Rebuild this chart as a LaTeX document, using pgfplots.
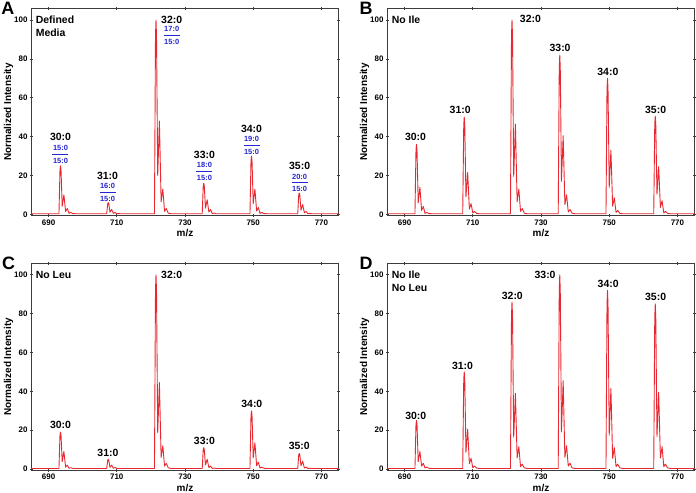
\documentclass[border=0pt]{standalone}
\usepackage{pgfplots}
\pgfplotsset{compat=1.18}
\usepackage{fontspec}
\setmainfont{Liberation Sans}
\definecolor{specred}{RGB}{232,40,46}
\definecolor{fracblue}{RGB}{36,36,210}
\definecolor{axgray}{RGB}{60,60,60}
\pgfplotsset{panel/.style={
  scale only axis, width=307bp, height=207.3bp,
  xmin=685, xmax=775, ymin=-0.7, ymax=106,
  xtick={690,710,730,750,770}, ytick={0,20,40,60,80,100},
  tick align=center, major tick length=3bp,
  axis line style={axgray, line width=0.8bp},
  every tick/.style={axgray, line width=0.6bp},
  /pgf/number format/assume math mode=true,
  /pgf/number format/1000 sep={},
  ticklabel style={font=\fontsize{8}{9}\selectfont\bfseries},
  xticklabel style={yshift=1bp},
  yticklabel style={xshift=1bp},
  xlabel={m/z}, ylabel={Normalized Intensity},
  label style={font=\fontsize{10}{12}\selectfont\bfseries},
  xlabel style={at={(axis description cs:0.5,-0.083)}, anchor=center},
  ylabel style={at={(axis description cs:-0.075,0.5)}, anchor=center},
  clip=false,
}}
\tikzset{spec/.style={specred, mark=none, line width=0.9bp, line join=round, line cap=round},
 pk/.style={font=\fontsize{10.5}{12}\selectfont\bfseries, inner sep=0pt, anchor=center},
 fr/.style={font=\fontsize{7.5}{9}\selectfont\bfseries, text=fracblue, inner sep=0pt, anchor=center},
 cond/.style={font=\fontsize{10.5}{12}\selectfont\bfseries, inner sep=0pt, anchor=west},
 let/.style={font=\fontsize{18}{20}\selectfont\bfseries, inner sep=0pt, anchor=center}}
\begin{document}
\begin{tikzpicture}
\useasboundingbox (0,0) rectangle (696bp,493bp);
% ---------------- A ----------------
\begin{axis}[panel, at={(31.5bp,277.3bp)}, anchor=south west]
\addplot[spec] coordinates {
(685,0.3)
(693.05,0.3)(693.35,23)(693.5,25)(693.65,23)(694.0,4.2)(694.5,10)(695.0,1.5)(695.5,3)(696.0,0.5)(696.5,1)(697.1,0.4)(698.0,0.3)
(707.05,0.3)(707.35,5.5)(707.5,6)(707.65,5.5)(708.0,1.1)(708.5,2.5)(709.0,0.5)(709.5,1)(710.0,0.3)(710.5,0.4)(711.1,0.3)(712.0,0.3)
(721.05,0.3)(721.35,92)(721.5,100)(721.65,92)(722.0,20)(722.5,48)(723.0,6.5)(723.5,13)(724.0,1.5)(724.5,3)(725.1,0.6)(726.0,0.3)
(735.05,0.3)(735.35,14.7)(735.5,16)(735.65,14.7)(736.0,3.2)(736.5,7.5)(737.0,1.2)(737.5,2.5)(738.0,0.4)(738.5,0.7)(739.1,0.3)(740.0,0.3)
(749.05,0.3)(749.35,27.6)(749.5,30)(749.65,27.6)(750.0,5.5)(750.5,13)(751.0,1.7)(751.5,3.5)(752.0,0.5)(752.5,1)(753.1,0.4)(754.0,0.3)
(763.05,0.3)(763.35,10.1)(763.5,11)(763.65,10.1)(764.0,2.1)(764.5,5)(765.0,0.8)(765.5,1.5)(766.0,0.3)(766.5,0.5)(767.1,0.3)(768.0,0.3)
(775,0.3)};
\node[cond] at (axis cs:686.2,100) {Defined};
\node[cond] at (axis cs:686.2,93.3) {Media};
\node[pk] at (axis cs:693.5,39.8) {30:0};
\node[fr] at (axis cs:693.5,34.2) {15:0};
\draw[fracblue, line width=0.8bp] ([xshift=-8bp]axis cs:693.5,31.1) -- ([xshift=8bp]axis cs:693.5,31.1);
\node[fr] at (axis cs:693.5,27.5) {15:0};
\node[pk] at (axis cs:707.3,19.9) {31:0};
\node[fr] at (axis cs:707.3,14.6) {16:0};
\draw[fracblue, line width=0.8bp] ([xshift=-8bp]axis cs:707.3,11.3) -- ([xshift=8bp]axis cs:707.3,11.3);
\node[fr] at (axis cs:707.3,8.0) {15:0};
\node[pk] at (axis cs:726.1,100.1) {32:0};
\node[fr] at (axis cs:726.1,95.3) {17:0};
\draw[fracblue, line width=0.8bp] ([xshift=-8bp]axis cs:726.1,91.9) -- ([xshift=8bp]axis cs:726.1,91.9);
\node[fr] at (axis cs:726.1,88.6) {15:0};
\node[pk] at (axis cs:735.7,30.4) {33:0};
\node[fr] at (axis cs:735.7,25.3) {18:0};
\draw[fracblue, line width=0.8bp] ([xshift=-8bp]axis cs:735.7,22.2) -- ([xshift=8bp]axis cs:735.7,22.2);
\node[fr] at (axis cs:735.7,18.7) {15:0};
\node[pk] at (axis cs:749.5,44.1) {34:0};
\node[fr] at (axis cs:749.5,38.8) {19:0};
\draw[fracblue, line width=0.8bp] ([xshift=-8bp]axis cs:749.5,35.6) -- ([xshift=8bp]axis cs:749.5,35.6);
\node[fr] at (axis cs:749.5,32.1) {15:0};
\node[pk] at (axis cs:763.6,24.7) {35:0};
\node[fr] at (axis cs:763.6,19.4) {20:0};
\draw[fracblue, line width=0.8bp] ([xshift=-8bp]axis cs:763.6,16.3) -- ([xshift=8bp]axis cs:763.6,16.3);
\node[fr] at (axis cs:763.6,13.2) {15:0};
\node[let] at (axis description cs:-0.077,1.0) {A};
\end{axis}
% ---------------- B ----------------
\begin{axis}[panel, at={(387.5bp,277.3bp)}, anchor=south west]
\addplot[spec] coordinates {
(685,0.3)
(693.05,0.3)(693.35,33.1)(693.5,36)(693.65,33.1)(694.0,5.9)(694.5,14)(695.0,2)(695.5,4)(696.0,0.5)(696.5,1)(697.1,0.4)(698.0,0.3)
(707.05,0.3)(707.35,46)(707.5,50)(707.65,46)(708.0,9)(708.5,21.5)(709.0,2.7)(709.5,5.5)(710.0,0.7)(710.5,1.5)(711.1,0.5)(712.0,0.3)
(721.05,0.3)(721.35,92)(721.5,100)(721.65,92)(722.0,19.5)(722.5,46.5)(723.0,6.5)(723.5,13)(724.0,1.5)(724.5,3)(725.1,0.6)(726.0,0.3)
(735.05,0.3)(735.35,75.4)(735.5,82)(735.65,75.4)(736.0,17)(736.5,40.5)(737.0,5)(737.5,10)(738.0,1.2)(738.5,2.5)(739.1,0.6)(740.0,0.3)
(749.05,0.3)(749.35,64.4)(749.5,70)(749.65,64.4)(750.0,13.9)(750.5,33)(751.0,4.2)(751.5,8.5)(752.0,1)(752.5,2)(753.1,0.5)(754.0,0.3)
(763.05,0.3)(763.35,46.5)(763.5,50.5)(763.65,46.5)(764.0,10.3)(764.5,24.5)(765.0,3.5)(765.5,7)(766.0,0.7)(766.5,1.5)(767.1,0.5)(768.0,0.3)
(775,0.3)};
\node[cond] at (axis cs:686.2,100) {No Ile};
\node[pk] at (axis cs:693.2,39.6) {30:0};
\node[pk] at (axis cs:706.3,53.9) {31:0};
\node[pk] at (axis cs:726.9,100.6) {32:0};
\node[pk] at (axis cs:735.6,85.5) {33:0};
\node[pk] at (axis cs:749.6,73.1) {34:0};
\node[pk] at (axis cs:763.6,53.9) {35:0};
\node[let] at (axis description cs:-0.07,1.0) {B};
\end{axis}
% ---------------- C ----------------
\begin{axis}[panel, at={(31.5bp,22.6bp)}, anchor=south west]
\addplot[spec] coordinates {
(685,0.3)
(693.05,0.3)(693.35,17.5)(693.5,19)(693.65,17.5)(694.0,3.8)(694.5,9)(695.0,1)(695.5,2)(696.0,0.4)(696.5,0.7)(697.1,0.3)(698.0,0.3)
(707.05,0.3)(707.35,4.6)(707.5,5)(707.65,4.6)(708.0,0.9)(708.5,2)(709.0,0.4)(709.5,0.8)(710.0,0.3)(710.5,0.3)(711.1,0.3)(712.0,0.3)
(721.05,0.3)(721.35,92)(721.5,100)(721.65,92)(722.0,18.7)(722.5,44.5)(723.0,6)(723.5,12)(724.0,1.5)(724.5,3)(725.1,0.6)(726.0,0.3)
(735.05,0.3)(735.35,10.1)(735.5,11)(735.65,10.1)(736.0,2.1)(736.5,5)(737.0,0.8)(737.5,1.5)(738.0,0.3)(738.5,0.5)(739.1,0.3)(740.0,0.3)
(749.05,0.3)(749.35,27.6)(749.5,30)(749.65,27.6)(750.0,5.7)(750.5,13.5)(751.0,1.7)(751.5,3.5)(752.0,0.5)(752.5,1)(753.1,0.4)(754.0,0.3)
(763.05,0.3)(763.35,7.4)(763.5,8)(763.65,7.4)(764.0,1.7)(764.5,4)(765.0,0.5)(765.5,1)(766.0,0.3)(766.5,0.4)(767.1,0.3)(768.0,0.3)
(775,0.3)};
\node[cond] at (axis cs:686.2,100) {No Leu};
\node[pk] at (axis cs:693.5,22.6) {30:0};
\node[pk] at (axis cs:707.4,8.4) {31:0};
\node[pk] at (axis cs:726.1,100) {32:0};
\node[pk] at (axis cs:735.7,14.4) {33:0};
\node[pk] at (axis cs:749.6,33.6) {34:0};
\node[pk] at (axis cs:763.5,11.7) {35:0};
\node[let] at (axis description cs:-0.075,1.0) {C};
\end{axis}
% ---------------- D ----------------
\begin{axis}[panel, at={(387.5bp,22.6bp)}, anchor=south west]
\addplot[spec] coordinates {
(685,0.3)
(693.05,0.3)(693.35,23)(693.5,25)(693.65,23)(694.0,3.8)(694.5,9)(695.0,1.5)(695.5,3)(696.0,0.5)(696.5,1)(697.1,0.4)(698.0,0.3)
(707.05,0.3)(707.35,46)(707.5,50)(707.65,46)(708.0,8.6)(708.5,20.5)(709.0,2.7)(709.5,5.5)(710.0,0.7)(710.5,1.5)(711.1,0.5)(712.0,0.3)
(721.05,0.3)(721.35,79.1)(721.5,86)(721.65,79.1)(722.0,16.4)(722.5,39)(723.0,5.7)(723.5,11.5)(724.0,1.2)(724.5,2.5)(725.1,0.6)(726.0,0.3)
(735.05,0.3)(735.35,92)(735.5,100)(735.65,92)(736.0,19.1)(736.5,45.5)(737.0,6)(737.5,12)(738.0,1.5)(738.5,3)(739.1,0.6)(740.0,0.3)
(749.05,0.3)(749.35,84.6)(749.5,92)(749.65,84.6)(750.0,17.4)(750.5,41.5)(751.0,5.5)(751.5,11)(752.0,1.2)(752.5,2.5)(753.1,0.6)(754.0,0.3)
(763.05,0.3)(763.35,78.2)(763.5,85)(763.65,78.2)(764.0,16.6)(764.5,39.5)(765.0,5.7)(765.5,11.5)(766.0,1.2)(766.5,2.5)(767.1,0.6)(768.0,0.3)
(775,0.3)};
\node[cond] at (axis cs:686.2,100) {No Ile};
\node[cond] at (axis cs:686.2,93.3) {No Leu};
\node[pk] at (axis cs:693.3,27.6) {30:0};
\node[pk] at (axis cs:707.0,53.0) {31:0};
\node[pk] at (axis cs:721.6,89.1) {32:0};
\node[pk] at (axis cs:731.2,100) {33:0};
\node[pk] at (axis cs:749.7,95.4) {34:0};
\node[pk] at (axis cs:763.6,88.7) {35:0};
\node[let] at (axis description cs:-0.07,1.0) {D};
\end{axis}
\end{tikzpicture}
\end{document}
